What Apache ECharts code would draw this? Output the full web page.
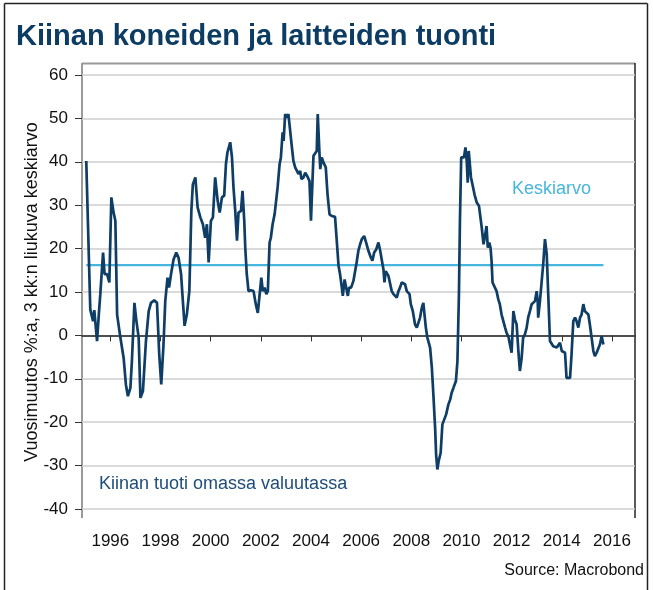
<!DOCTYPE html>
<html>
<head>
<meta charset="utf-8">
<script src="https://cdn.jsdelivr.net/npm/echarts@6.0.0/dist/echarts.min.js"></script>
<style>
  html, body { margin: 0; padding: 0; background: #fff; }
  #chart { width: 653px; height: 590px; }
</style>
</head>
<body>
<div id="chart"></div>
<script>
// time in decimal years, value = yoy %, 3m moving average
var dates = [
  1995.04, 1995.20, 1995.31, 1995.36, 1995.47, 1995.54, 1995.60, 1995.71, 1995.77, 1995.87, 1995.96,
  1996.04, 1996.13, 1996.20, 1996.27, 1996.40, 1996.53, 1996.62, 1996.70, 1996.80, 1996.86, 1996.96,
  1997.04, 1997.13, 1997.20, 1997.30, 1997.42, 1997.53, 1997.62, 1997.75, 1997.86, 1997.95,
  1998.03, 1998.12, 1998.19, 1998.28, 1998.34, 1998.42, 1998.52, 1998.63, 1998.72, 1998.82, 1998.90, 1998.96,
  1999.05, 1999.15, 1999.23, 1999.29, 1999.39, 1999.48, 1999.59, 1999.69, 1999.78, 1999.85, 1999.92,
  2000.01, 2000.09, 2000.18, 2000.28, 2000.36, 2000.45, 2000.54, 2000.61, 2000.67, 2000.78, 2000.85, 2000.91, 2000.98,
  2001.05, 2001.11, 2001.21, 2001.27, 2001.34, 2001.38, 2001.44, 2001.51, 2001.60, 2001.71, 2001.80, 2001.88, 2001.95,
  2002.02, 2002.08, 2002.15, 2002.22, 2002.28, 2002.35, 2002.40, 2002.47, 2002.55, 2002.62, 2002.67, 2002.75, 2002.80, 2002.87, 2002.91, 2002.97,
  2003.04, 2003.10, 2003.17, 2003.24, 2003.30, 2003.37, 2003.44, 2003.50, 2003.57, 2003.62, 2003.70, 2003.77, 2003.84, 2003.90, 2003.94,
  2004.00, 2004.06, 2004.10, 2004.17, 2004.23, 2004.27, 2004.34, 2004.37, 2004.43, 2004.50, 2004.59, 2004.66, 2004.74, 2004.83, 2004.96,
  2005.03, 2005.10, 2005.16, 2005.23, 2005.27, 2005.34, 2005.40, 2005.47, 2005.52, 2005.60, 2005.69, 2005.76, 2005.82, 2005.89, 2005.96,
  2006.03, 2006.12, 2006.20, 2006.29, 2006.39, 2006.45, 2006.52, 2006.60, 2006.69, 2006.76, 2006.82, 2006.89, 2006.93, 2006.98,
  2007.09, 2007.16, 2007.22, 2007.29, 2007.36, 2007.42, 2007.49, 2007.55, 2007.62, 2007.69, 2007.75, 2007.82, 2007.93, 2007.98,
  2008.06, 2008.15, 2008.22, 2008.28, 2008.35, 2008.42, 2008.48, 2008.52, 2008.58, 2008.64, 2008.75, 2008.82, 2008.88, 2008.95, 2008.99,
  2009.04, 2009.09, 2009.17, 2009.24, 2009.31, 2009.39, 2009.48, 2009.55, 2009.61, 2009.68, 2009.78, 2009.84, 2009.90, 2009.94, 2009.99,
  2010.04, 2010.10, 2010.16, 2010.21, 2010.25, 2010.29, 2010.34, 2010.38, 2010.45, 2010.52, 2010.61, 2010.70, 2010.74, 2010.81, 2010.88, 2010.94,
  2011.00, 2011.05, 2011.11, 2011.16, 2011.20, 2011.24, 2011.31, 2011.40, 2011.47, 2011.53, 2011.60, 2011.67, 2011.74, 2011.80, 2011.87, 2011.93,
  2012.00, 2012.07, 2012.13, 2012.20, 2012.27, 2012.33, 2012.40, 2012.46, 2012.53, 2012.60, 2012.66, 2012.73, 2012.80, 2012.86, 2012.93,
  2013.00, 2013.04, 2013.06, 2013.13, 2013.20, 2013.26, 2013.33, 2013.40, 2013.46, 2013.53, 2013.60, 2013.66, 2013.73, 2013.80, 2013.86, 2013.93,
  2014.00, 2014.06, 2014.13, 2014.19, 2014.26, 2014.33, 2014.39, 2014.46, 2014.53, 2014.59, 2014.66, 2014.73, 2014.79, 2014.86, 2014.92, 2014.99,
  2015.06, 2015.12, 2015.19, 2015.26, 2015.32, 2015.39, 2015.45, 2015.52, 2015.59, 2015.66
];
var values = [
  40.2, 6.0, 3.3, 5.8, -1.3, 4.8, 9.5, 19.1, 14.1, 14.1, 12.2,
  31.8, 28.3, 26.4, 4.8, -0.5, -5.2, -11.3, -14.0, -12.1, -5.9, 7.5,
  3.3, -0.5, -14.4, -12.8, -1.3, 5.6, 7.5, 8.1, 7.5, -4.4,
  -11.3, -2.1, 7.9, 13.3, 11.0, 14.1, 17.5, 19.1, 17.9, 14.1, 7.2, 2.2,
  4.8, 10.2, 28.7, 34.8, 36.4, 29.5, 27.2, 25.6, 22.5, 25.6, 16.8,
  26.4, 27.2, 36.4, 31.0, 28.3, 31.8, 32.2, 39.5, 42.2, 44.5, 41.0, 34.1, 28.7,
  21.8, 28.3, 28.7, 33.3, 26.4, 20.2, 14.1, 10.2, 10.4, 10.2, 7.2, 5.2, 4.8,
  13.3, 10.2, 11.0, 9.5, 10.2, 21.4, 22.5, 25.6, 27.9, 28.3, 34.1, 39.5, 41.0, 46.8, 44.8, 51.0,
  50.2, 51.0, 51.0, 43.3, 40.2, 38.7, 38.7, 37.2, 37.9, 36.0, 36.4, 37.5, 36.8, 37.2, 35.6,
  26.4, 35.6, 41.4, 41.0, 42.5, 51.0, 41.8, 38.3, 41.0, 39.8, 38.7, 32.5, 27.9, 27.5, 27.3,
  27.2, 16.0, 14.1, 11.0, 9.1, 12.9, 12.5, 9.1, 11.0, 11.0, 12.5, 14.8, 16.8, 19.5, 21.0,
  22.2, 22.9, 21.4, 19.5, 17.9, 17.2, 19.1, 19.8, 21.4, 19.5, 17.5, 15.2, 12.2, 14.8,
  13.7, 13.3, 10.2, 9.5, 9.6, 8.7, 10.2, 11.0, 12.2, 12.5, 11.8, 10.2, 9.5, 7.2,
  5.6, 2.5, 1.8, 2.2, 4.1, 6.4, 7.5, 7.9, 1.8, -0.5, -2.8, -7.5, -13.6, -21.3, -27.5,
  -30.9, -29.0, -27.1, -20.5, -20.9, -18.2, -15.9, -14.8, -13.2, -12.1, -10.5, -5.9, 9.5, 26.4, 41.0,
  40.6, 41.0, 43.3, 40.2, 35.2, 42.5, 42.5, 36.4, 34.5, 32.5, 30.6, 29.8, 29.5, 24.8, 21.0, 22.9,
  25.2, 20.2, 21.4, 20.2, 17.2, 12.2, 12.2, 10.2, 8.3, 7.2, 4.8, 3.3, 1.8, 0.6, -0.2, -0.5,
  -4.0, 5.6, 3.7, 2.5, -3.6, -8.2, -5.2, -0.5, 0.2, 1.8, 4.1, 5.6, 7.2, 7.5, 7.9,
  10.2, 7.9, 4.1, 7.9, 12.5, 16.4, 22.2, 18.7, 9.5, -1.3, -1.7, -2.5, -2.1, -2.8, -2.7, -1.7,
  -3.6, -3.6, -4.0, -9.8, -10.2, -9.8, -4.4, 3.3, 4.1, 3.3, 1.8, 4.1, 4.8, 7.2, 5.6, 5.2,
  4.8, 2.5, -0.5, -3.6, -4.8, -4.0, -3.6, -2.1, -0.2, -2.1
];
var averageValue = 16.2;
var yearTicks = [1996, 1998, 2000, 2002, 2004, 2006, 2008, 2010, 2012, 2014, 2016];

var seriesData = [];
for (var i = 0; i < dates.length; i++) {
    seriesData.push([dates[i], values[i]]);
}
var avgData = [[dates[0], averageValue], [dates[dates.length - 1], averageValue]];

var font = '"Liberation Sans", Arial, sans-serif';
var chart = echarts.init(document.getElementById('chart'), null, {renderer: 'canvas'});

var option = {
    backgroundColor: '#fff',
    animation: false,
    title: {
        text: 'Kiinan koneiden ja laitteiden tuonti',
        left: 11,
        top: 17,
        textStyle: {
            fontFamily: font,
            fontSize: 29,
            fontWeight: 'bold',
            color: '#0d3c63'
        }
    },
    grid: {
        left: 82,
        right: 18,
        top: 75,
        bottom: 81
    },
    xAxis: {
        type: 'value',
        min: 1994.87,
        max: 2016.92,
        offset: 9,
        axisLine: {show: true, lineStyle: {color: '#222', width: 1.5}},
        axisTick: {show: true, length: 6, customValues: yearTicks, lineStyle: {color: '#333'}},
        axisLabel: {
            customValues: yearTicks,
            margin: 15,
            fontFamily: font,
            fontSize: 17,
            color: '#111',
            formatter: function(v) { return String(Math.round(v)); }
        },
        splitLine: {show: false}
    },
    yAxis: {
        type: 'value',
        min: -40,
        max: 60,
        interval: 10,
        name: 'Vuosimuutos %:a, 3 kk:n liukuva keskiarvo',
        nameLocation: 'middle',
        nameGap: 41,
        nameMoveOverlap: false,
        nameTextStyle: {fontFamily: font, fontSize: 18, color: '#111'},
        axisLine: {show: false},
        axisTick: {show: true, length: 7, lineStyle: {color: '#333'}},
        axisLabel: {margin: 14, fontFamily: font, fontSize: 17, color: '#111'},
        splitLine: {show: true, lineStyle: {color: '#cecece', width: 1.5}}
    },
    series: [{
        name: 'Keskiarvo',
        type: 'line',
        data: avgData,
        symbol: 'none',
        lineStyle: {color: '#46b6de', width: 2.2},
        z: 2
    }, {
        name: 'Kiinan tuoti omassa valuutassa',
        type: 'line',
        data: seriesData,
        symbol: 'none',
        lineStyle: {color: '#0e3d66', width: 2.7},
        z: 3
    }],
    graphic: [
        // outer frame of the picture
        {type: 'line', shape: {x1: 4.5, y1: 3.5, x2: 647.5, y2: 3.5}, style: {stroke: '#222', lineWidth: 1.5}},
        {type: 'line', shape: {x1: 4.5, y1: 3.5, x2: 4.5, y2: 590}, style: {stroke: '#222', lineWidth: 1.5}},
        {type: 'line', shape: {x1: 647.5, y1: 3.5, x2: 647.5, y2: 590}, style: {stroke: '#222', lineWidth: 1.5}},
        // plot box
        {type: 'line', shape: {x1: 82, y1: 63.5, x2: 635, y2: 63.5}, style: {stroke: '#9a9a9a', lineWidth: 2}},
        {type: 'line', shape: {x1: 82, y1: 63, x2: 82, y2: 518}, style: {stroke: '#9a9a9a', lineWidth: 2}},
        {type: 'line', shape: {x1: 635, y1: 63, x2: 635, y2: 518}, style: {stroke: '#222', lineWidth: 1.5}},
        {
            type: 'text', left: 512, top: 180,
            style: {text: 'Keskiarvo', fill: '#46b6de', font: '18px ' + font}
        },
        {
            type: 'text', left: 99, top: 475,
            style: {text: 'Kiinan tuoti omassa valuutassa', fill: '#1e4d78', font: '18px ' + font}
        },
        {
            type: 'text', right: 9, top: 563,
            style: {text: 'Source: Macrobond', fill: '#111', font: '16px ' + font}
        }
    ]
};
chart.setOption(option);
</script>
</body>
</html>
